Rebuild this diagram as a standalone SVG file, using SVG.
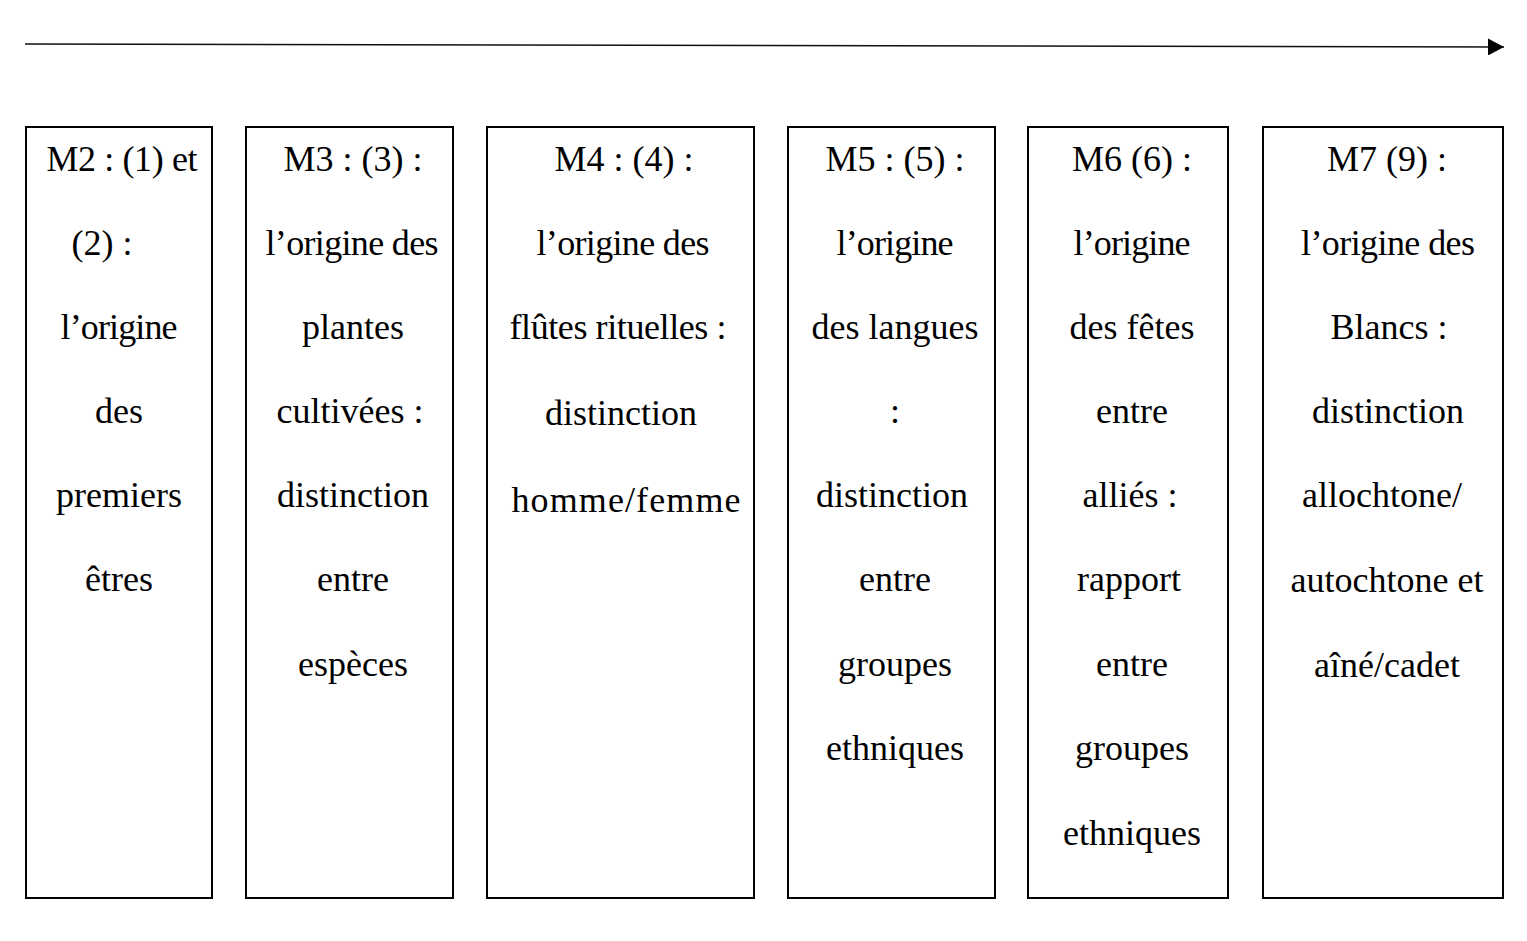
<svg xmlns="http://www.w3.org/2000/svg" width="1527" height="941" viewBox="0 0 1527 941">
<style>
.box{fill:#fff;stroke:#000;stroke-width:2}
text{font-family:"Liberation Serif","Times New Roman",serif;font-size:36px;fill:#000;text-anchor:middle}
.conn{stroke:#111;stroke-width:1.5;fill:none}
</style>
<defs>
<marker id="ah" markerWidth="16" markerHeight="17" refX="16" refY="8.5" orient="auto" markerUnits="userSpaceOnUse">
<path d="M0,0 L16,8.5 L0,17 Z" fill="#000"/>
</marker>
</defs>
<rect width="1527" height="941" fill="#fff"/>
<g id="connectors">
<line class="conn" x1="25" y1="44" x2="1504" y2="47" marker-end="url(#ah)"/>
</g>
<g id="m2">
<rect class="box" x="26" y="127" width="186" height="771"/>
<text x="122" y="171" textLength="151">M2 : (1) et</text>
<text x="102" y="255">(2) :</text>
<text x="119" y="339" textLength="117">l’origine</text>
<text x="119" y="423">des</text>
<text x="119" y="507">premiers</text>
<text x="119" y="591">êtres</text>
</g>
<g id="m3">
<rect class="box" x="246" y="127" width="207" height="771"/>
<text x="353" y="171">M3 : (3) :</text>
<text x="352" y="255" textLength="173">l’origine des</text>
<text x="353" y="339">plantes</text>
<text x="350" y="423">cultivées :</text>
<text x="353" y="507">distinction</text>
<text x="353" y="591">entre</text>
<text x="353" y="676">espèces</text>
</g>
<g id="m4">
<rect class="box" x="487" y="127" width="267" height="771"/>
<text x="624" y="171">M4 : (4) :</text>
<text x="623" y="255" textLength="173">l’origine des</text>
<text x="618" y="339" textLength="217">flûtes rituelles :</text>
<text x="621" y="425">distinction</text>
<text x="626" y="512" textLength="229">homme/femme</text>
</g>
<g id="m5">
<rect class="box" x="788" y="127" width="207" height="771"/>
<text x="895" y="171">M5 : (5) :</text>
<text x="895" y="255" textLength="117">l’origine</text>
<text x="895" y="339">des langues</text>
<text x="895" y="423">:</text>
<text x="892" y="507">distinction</text>
<text x="895" y="591">entre</text>
<text x="895" y="676">groupes</text>
<text x="895" y="760">ethniques</text>
</g>
<g id="m6">
<rect class="box" x="1028" y="127" width="200" height="771"/>
<text x="1132" y="171">M6 (6) :</text>
<text x="1132" y="255" textLength="117">l’origine</text>
<text x="1132" y="339">des fêtes</text>
<text x="1132" y="423">entre</text>
<text x="1130" y="507">alliés :</text>
<text x="1129" y="591">rapport</text>
<text x="1132" y="676">entre</text>
<text x="1132" y="760">groupes</text>
<text x="1132" y="845">ethniques</text>
</g>
<g id="m7">
<rect class="box" x="1263" y="127" width="240" height="771"/>
<text x="1387" y="171">M7 (9) :</text>
<text x="1388" y="255" textLength="174">l’origine des</text>
<text x="1389" y="339">Blancs :</text>
<text x="1388" y="423">distinction</text>
<text x="1382" y="507">allochtone/</text>
<text x="1387" y="592">autochtone et</text>
<text x="1387" y="677">aîné/cadet</text>
</g>
</svg>
